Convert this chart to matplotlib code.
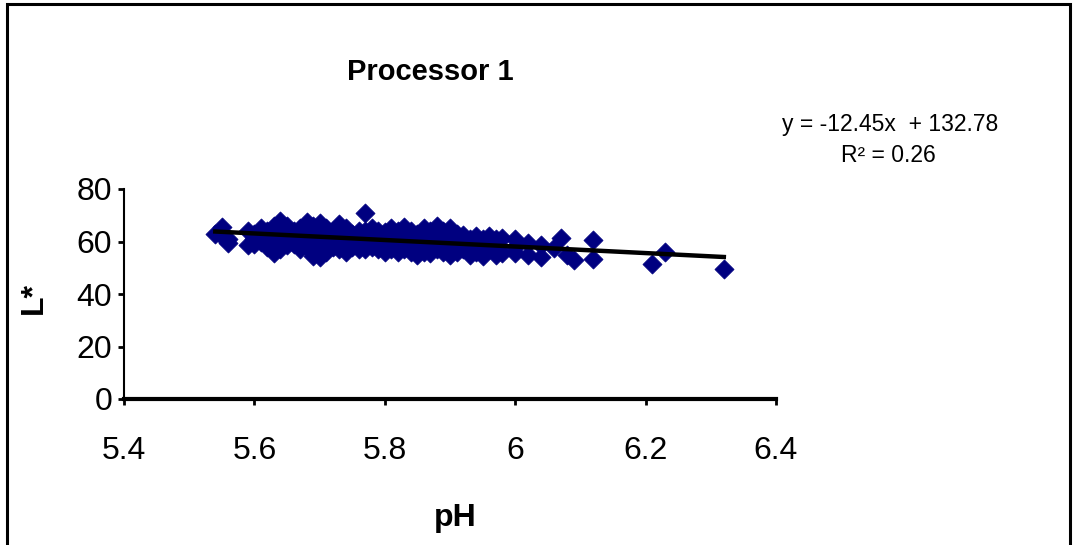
import matplotlib
matplotlib.use("Agg")
import matplotlib.pyplot as plt
from matplotlib.patches import Rectangle
import numpy as np

# pH and L* readings
ph = [5.54, 5.55, 5.55, 5.56, 5.56, 5.59, 5.59, 5.60, 5.60, 5.60,
      5.61, 5.61, 5.62, 5.62, 5.62, 5.62, 5.63, 5.63, 5.63, 5.63,
      5.64, 5.64, 5.64, 5.64, 5.65, 5.65, 5.65, 5.66, 5.66, 5.66,
      5.67, 5.67, 5.67, 5.68, 5.68, 5.68, 5.68, 5.69, 5.69, 5.69, 5.69,
      5.70, 5.70, 5.70, 5.70, 5.70, 5.71, 5.71, 5.71, 5.71,
      5.72, 5.72, 5.72, 5.72, 5.73, 5.73, 5.73, 5.73, 5.74, 5.74, 5.74, 5.74,
      5.75, 5.75, 5.75, 5.76, 5.76, 5.76, 5.76, 5.77, 5.77, 5.77, 5.77, 5.77,
      5.78, 5.78, 5.78, 5.78, 5.79, 5.79, 5.79, 5.80, 5.80, 5.80, 5.80, 5.80,
      5.81, 5.81, 5.81, 5.82, 5.82, 5.82, 5.82, 5.83, 5.83, 5.83, 5.83,
      5.84, 5.84, 5.84, 5.84, 5.85, 5.85, 5.85, 5.85, 5.86, 5.86, 5.86, 5.86,
      5.87, 5.87, 5.87, 5.87, 5.88, 5.88, 5.88, 5.88, 5.89, 5.89, 5.89, 5.89,
      5.90, 5.90, 5.90, 5.90, 5.91, 5.91, 5.91, 5.92, 5.92, 5.92,
      5.93, 5.93, 5.93, 5.94, 5.94, 5.94, 5.95, 5.95, 5.95, 5.96, 5.96, 5.96,
      5.97, 5.97, 5.98, 5.98, 6.00, 6.00, 6.00, 6.02, 6.02, 6.04, 6.04,
      6.06, 6.07, 6.08, 6.09, 6.12, 6.12, 6.21, 6.23, 6.32]
lstar = [63.0, 65.5, 62.0, 59.5, 61.0, 64.0, 58.5, 63.0, 59.0, 61.0,
         65.0, 60.0, 64.0, 58.0, 61.0, 62.0, 66.0, 55.5, 62.0, 60.0,
         68.0, 57.0, 63.0, 60.0, 66.0, 58.5, 62.0, 64.0, 59.0, 61.0,
         65.0, 57.0, 62.0, 67.5, 58.0, 63.0, 60.0, 66.0, 54.5, 62.0, 60.0,
         67.0, 54.0, 60.0, 63.0, 58.0, 65.0, 56.0, 61.0, 59.0,
         64.0, 58.0, 62.0, 60.0, 66.5, 57.0, 61.0, 63.0, 65.0, 56.0, 60.0, 62.0,
         63.0, 58.0, 61.0, 64.0, 57.0, 60.0, 62.0, 71.0, 57.0, 64.0, 61.0, 59.0,
         65.0, 58.0, 62.0, 60.0, 64.0, 57.0, 61.0, 63.5, 56.0, 60.0, 62.0, 58.0,
         65.0, 57.0, 61.0, 64.0, 56.0, 62.0, 59.0, 65.5, 57.0, 60.0, 63.0,
         64.0, 56.0, 61.0, 59.0, 63.0, 55.0, 60.0, 58.0, 65.0, 56.0, 62.0, 59.0,
         64.0, 55.5, 61.0, 58.0, 66.0, 57.0, 62.0, 60.0, 64.0, 56.0, 61.0, 59.0,
         65.0, 55.0, 62.0, 58.0, 63.0, 56.0, 60.0, 62.5, 57.0, 60.0,
         61.0, 55.0, 58.0, 62.0, 56.0, 59.0, 61.0, 54.5, 58.0, 62.0, 57.0, 59.5,
         61.0, 55.0, 61.5, 55.5, 61.0, 55.5, 58.0, 59.5, 55.0, 58.5, 54.0,
         57.5, 61.5, 55.0, 53.0, 60.5, 53.5, 51.5, 56.0, 49.5]

slope, intercept = -12.45, 132.78
eq_text = "y = -12.45x  + 132.78"
r2_text = "R² = 0.26"
title = "Processor 1"
x_ticks = [5.4, 5.6, 5.8, 6.0, 6.2, 6.4]
x_ticklabels = ["5.4", "5.6", "5.8", "6", "6.2", "6.4"]
y_ticks = [0, 20, 40, 60, 80]

plt.rcParams["font.family"] = ["Liberation Sans", "DejaVu Sans"]

W, H = 1075, 545
fig = plt.figure(figsize=(W / 100, H / 100), dpi=100)

# outer chart frame (bottom edge lies outside the picture)
fig.patches.append(Rectangle((7 / W, -0.05), 1063 / W, 1.05 - 4 / H,
                             transform=fig.transFigure, fill=False,
                             edgecolor="black", linewidth=2.2))

ax = fig.add_axes([124 / W, (H - 399) / H, 652 / W, 210 / H])
ax.scatter(ph, lstar, marker="D", s=95, color="#000080",
           edgecolors="#000080", linewidths=0.5, zorder=2)

xs = np.array([min(ph), max(ph)])
ax.plot(xs, slope * xs + intercept, color="black", linewidth=3.2, zorder=3)

ax.set_xlim(5.4, 6.4)
ax.set_ylim(0, 80)
ax.set_xticks(x_ticks)
ax.set_xticklabels(x_ticklabels)
ax.set_yticks(y_ticks)
for s in ["top", "right"]:
    ax.spines[s].set_visible(False)
ax.spines["left"].set_linewidth(1.5)
ax.spines["bottom"].set_linewidth(3)
ax.tick_params(axis="both", direction="out", length=4.5, width=2, labelsize=23)
ax.tick_params(axis="x", pad=22)
ax.tick_params(axis="y", pad=4)

fig.text(430 / W, 1 - 72 / H, title, ha="center", va="center",
         fontsize=21, fontweight="bold")
fig.text(890 / W, 1 - 125 / H, eq_text, ha="center", va="center", fontsize=16.5)
fig.text(888 / W, 1 - 155 / H, r2_text, ha="center", va="center", fontsize=16.5)
fig.text(34 / W, 1 - 298 / H, "L*", ha="center", va="center", rotation=90,
         fontsize=23, fontweight="bold")
fig.text(455 / W, 1 - 518 / H, "pH", ha="center", va="center",
         fontsize=23, fontweight="bold")

fig.savefig("out.png", dpi=100)
